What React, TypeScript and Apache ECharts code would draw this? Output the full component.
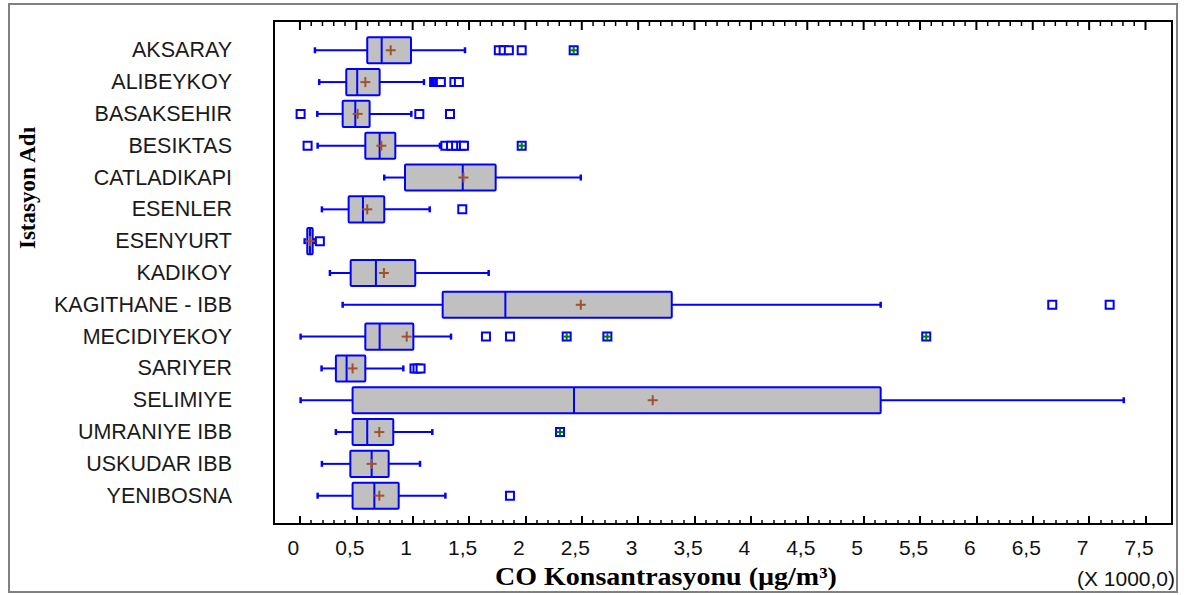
import React, { useEffect, useRef } from 'react';
import * as echarts from 'echarts';

// ---- data (values in thousands of µg/m³, as on the axis "X 1000,0") ----
const STATIONS = [
  'AKSARAY', 'ALIBEYKOY', 'BASAKSEHIR', 'BESIKTAS', 'CATLADIKAPI', 'ESENLER', 'ESENYURT',
  'KADIKOY', 'KAGITHANE - IBB', 'MECIDIYEKOY', 'SARIYER', 'SELIMIYE', 'UMRANIYE IBB',
  'USKUDAR IBB', 'YENIBOSNA',
];
const WHISKER_LOW = [0.133, 0.171, 0.154, 0.157, 0.748, 0.195, 0.042, 0.266, 0.379, 0.006, 0.192, 0.006, 0.319, 0.195, 0.157];
const Q1 = [0.597, 0.411, 0.379, 0.58, 0.932, 0.432, 0.065, 0.45, 1.266, 0.58, 0.319, 0.467, 0.467, 0.447, 0.467];
const MEDIAN = [0.725, 0.508, 0.491, 0.707, 1.444, 0.559, 0.089, 0.674, 1.822, 0.707, 0.414, 2.431, 0.597, 0.636, 0.66];
const Q3 = [0.985, 0.707, 0.618, 0.846, 1.736, 0.748, 0.113, 1.023, 3.298, 1.006, 0.58, 5.151, 0.828, 0.787, 0.876];
const WHISKER_HIGH = [1.464, 1.1, 0.988, 1.242, 2.491, 1.151, 0.125, 1.674, 5.151, 1.34, 0.917, 7.307, 1.174, 1.065, 1.29];
const MEAN = [0.805, 0.58, 0.512, 0.722, 1.45, 0.597, 0.089, 0.745, 2.491, 0.947, 0.467, 3.129, 0.704, 0.636, 0.704];
const OUTLIERS = [
  [1.764, 1.807, 1.853, 1.967],
  [1.19, 1.2, 1.21, 1.22, 1.235, 1.25, 1.37, 1.41],
  [0.006, 1.059, 1.331],
  [0.068, 1.29, 1.34, 1.385, 1.43, 1.455],
  [],
  [1.44],
  [0.177],
  [],
  [6.673, 7.182],
  [1.65, 1.863],
  [1.016, 1.043, 1.07],
  [],
  [],
  [],
  [1.863],
];
const FAR_OUTLIERS = [
  [2.428], [], [], [1.967], [], [], [], [], [], [2.366, 2.727, 5.555], [], [], [2.307], [], [],
];
const X_TICKS = [0, 0.5, 1, 1.5, 2, 2.5, 3, 3.5, 4, 4.5, 5, 5.5, 6, 6.5, 7, 7.5];
const X_MINOR_TICKS: number[] = [];
X_TICKS.slice(0, -1).forEach((t) => {
  [0.1, 0.2, 0.3, 0.4].forEach((d) => X_MINOR_TICKS.push(Math.round((t + d) * 10) / 10));
});

// ---- styling ----
const X_MIN = -0.23;
const X_MAX = 7.735;
const Y_MIN = -0.92;
const Y_MAX = 14.89;
const BLUE = '#0000ff';
const BOX_FILL = '#c0c0c0';
const MEAN_COLOR = '#a0522d';
const GREEN = '#008000';
const SANS = '"Liberation Sans", Arial, sans-serif';
const SERIF = '"Liberation Serif", "Times New Roman", serif';

export default function App() {
  const ref = useRef<HTMLDivElement>(null);

  useEffect(() => {
    if (!ref.current) return;
    const chart = echarts.init(ref.current, undefined, { renderer: 'svg' });

    const boxData = STATIONS.map((_, i) => [i, WHISKER_LOW[i], Q1[i], MEDIAN[i], Q3[i], WHISKER_HIGH[i], MEAN[i]]);
    const outlierData = OUTLIERS.flatMap((arr, i) => arr.map((v) => [v, i]));
    const farData = FAR_OUTLIERS.flatMap((arr, i) => arr.map((v) => [v, i]));

    const xBase: any = {
      type: 'value',
      min: X_MIN,
      max: X_MAX,
      gridIndex: 0,
      splitLine: { show: false },
      axisLine: { show: false, onZero: false },
    };

    const graphic: any[] = [
      {
        type: 'rect',
        silent: true,
        z: -10,
        shape: { x: 9, y: 4, width: 1168, height: 588 },
        style: { fill: 'none', stroke: '#808080', lineWidth: 2 },
      },
      {
        type: 'text',
        silent: true,
        x: 27,
        y: 188,
        rotation: Math.PI / 2,
        style: {
          text: 'Istasyon Adı',
          font: `bold 23px ${SERIF}`,
          fill: '#000000',
          align: 'center',
          verticalAlign: 'middle',
          textAlign: 'center',
          textVerticalAlign: 'middle',
        },
      },
      {
        type: 'text',
        silent: true,
        x: 666,
        y: 577,
        scaleX: 1.12,
        style: {
          text: 'CO Konsantrasyonu (µg/m³)',
          font: `bold 25px ${SERIF}`,
          fill: '#000000',
          align: 'center',
          verticalAlign: 'middle',
          textAlign: 'center',
          textVerticalAlign: 'middle',
        },
      },
      {
        type: 'text',
        silent: true,
        x: 1175,
        y: 578,
        style: {
          text: '(X 1000,0)',
          font: `21px ${SANS}`,
          fill: '#111111',
          align: 'right',
          verticalAlign: 'middle',
          textAlign: 'right',
          textVerticalAlign: 'middle',
        },
      },
    ];

    const option: any = {
      animation: false,
      backgroundColor: '#ffffff',
      grid: {
        left: 274,
        right: 14,
        top: 21,
        bottom: 71,
        show: true,
        borderColor: '#000000',
        borderWidth: 2,
        backgroundColor: 'transparent',
      },
      xAxis: [
        {
          ...xBase,
          position: 'bottom',
          axisTick: { show: true, inside: true, length: 8, customValues: X_TICKS, lineStyle: { color: '#000', width: 2 } },
          axisLabel: {
            show: true,
            customValues: X_TICKS,
            formatter: (v: number) => String(v).replace('.', ','),
            margin: 13,
            fontSize: 21,
            fontFamily: SANS,
            color: '#111111',
            padding: [0, 13, 0, 0],
          },
        },
        {
          ...xBase,
          position: 'bottom',
          axisTick: { show: true, inside: true, length: 4, customValues: X_MINOR_TICKS, lineStyle: { color: '#000', width: 1.5 } },
          axisLabel: { show: false },
        },
      ],
      yAxis: {
        type: 'value',
        inverse: true,
        min: Y_MIN,
        max: Y_MAX,
        axisLine: { show: false, onZero: false },
        axisTick: { show: false },
        splitLine: { show: false },
        axisLabel: {
          customValues: STATIONS.map((_, i) => i),
          formatter: (v: number) => STATIONS[Math.round(v)] ?? '',
          fontSize: 21.5,
          fontFamily: SANS,
          color: '#1a1a1a',
          margin: 42,
          padding: [0, 0, 5, 0],
        },
      },
      series: [
        {
          type: 'custom',
          xAxisIndex: 0,
          yAxisIndex: 0,
          silent: true,
          encode: { x: [1, 2, 3, 4, 5, 6], y: 0 },
          data: boxData,
          renderItem: (params: any, api: any) => {
            const idx = api.value(0);
            const pLo = api.coord([api.value(1), idx]);
            const pQ1 = api.coord([api.value(2), idx]);
            const pMed = api.coord([api.value(3), idx]);
            const pQ3 = api.coord([api.value(4), idx]);
            const pHi = api.coord([api.value(5), idx]);
            const pMean = api.coord([api.value(6), idx]);
            const band = api.size([0, 1])[1];
            const h = band * 0.82;
            const y = pLo[1];
            const cap = 3;
            const lineStyle = { stroke: BLUE, lineWidth: 2 };
            return {
              type: 'group',
              children: [
                { type: 'line', shape: { x1: pLo[0], y1: y, x2: pQ1[0], y2: y }, style: lineStyle },
                { type: 'line', shape: { x1: pQ3[0], y1: y, x2: pHi[0], y2: y }, style: lineStyle },
                { type: 'line', shape: { x1: pLo[0], y1: y - cap, x2: pLo[0], y2: y + cap }, style: { stroke: BLUE, lineWidth: 2.5 } },
                { type: 'line', shape: { x1: pHi[0], y1: y - cap, x2: pHi[0], y2: y + cap }, style: { stroke: BLUE, lineWidth: 2.5 } },
                {
                  type: 'rect',
                  shape: { x: pQ1[0], y: y - h / 2, width: pQ3[0] - pQ1[0], height: h, r: 1 },
                  style: { fill: BOX_FILL, stroke: BLUE, lineWidth: 2 },
                },
                { type: 'line', shape: { x1: pMed[0], y1: y - h / 2, x2: pMed[0], y2: y + h / 2 }, style: lineStyle },
                { type: 'line', shape: { x1: pMean[0] - 5, y1: y, x2: pMean[0] + 5, y2: y }, style: { stroke: MEAN_COLOR, lineWidth: 2 } },
                { type: 'line', shape: { x1: pMean[0], y1: y - 5, x2: pMean[0], y2: y + 5 }, style: { stroke: MEAN_COLOR, lineWidth: 2 } },
              ],
            };
          },
          z: 2,
        },
        {
          type: 'scatter',
          xAxisIndex: 0,
          yAxisIndex: 0,
          silent: true,
          symbol: 'rect',
          symbolSize: 8,
          data: outlierData,
          itemStyle: { color: '#ffffff', borderColor: BLUE, borderWidth: 2, opacity: 1 },
          z: 3,
        },
        {
          type: 'custom',
          xAxisIndex: 0,
          yAxisIndex: 0,
          silent: true,
          encode: { x: 0, y: 1 },
          data: farData,
          renderItem: (params: any, api: any) => {
            const p = api.coord([api.value(0), api.value(1)]);
            return {
              type: 'group',
              children: [
                { type: 'rect', shape: { x: p[0] - 4, y: p[1] - 4, width: 8, height: 8 }, style: { fill: '#ffffff', stroke: BLUE, lineWidth: 2 } },
                { type: 'line', shape: { x1: p[0] - 3.5, y1: p[1], x2: p[0] + 3.5, y2: p[1] }, style: { stroke: GREEN, lineWidth: 2 } },
                { type: 'line', shape: { x1: p[0], y1: p[1] - 3.5, x2: p[0], y2: p[1] + 3.5 }, style: { stroke: GREEN, lineWidth: 2 } },
              ],
            };
          },
          z: 4,
        },
      ],
      graphic,
    };

    chart.setOption(option);

    // tick marks along the top frame, positioned with the chart's own x scale
    const topY = chart.convertToPixel({ gridIndex: 0 }, [0, Y_MIN])[1];
    const tickSpecs: [number, number, number][] = [
      ...X_TICKS.map((v) => [v, 9, 2] as [number, number, number]),
      ...X_MINOR_TICKS.map((v) => [v, 5, 1.5] as [number, number, number]),
    ];
    const tickEls = tickSpecs.map(([v, len, w]) => {
      const x = chart.convertToPixel({ gridIndex: 0 }, [v, Y_MIN])[0];
      return {
        type: 'rect',
        silent: true,
        z: 100,
        shape: { x: x - w / 2, y: topY, width: w, height: len },
        style: { fill: '#000000' },
      };
    });
    chart.setOption({ graphic: [...graphic, ...tickEls] });

    return () => chart.dispose();
  }, []);

  return (
    <div
      ref={ref}
      style={{ position: 'absolute', left: 0, top: 0, width: 1186, height: 595, background: '#fff' }}
    />
  );
}
